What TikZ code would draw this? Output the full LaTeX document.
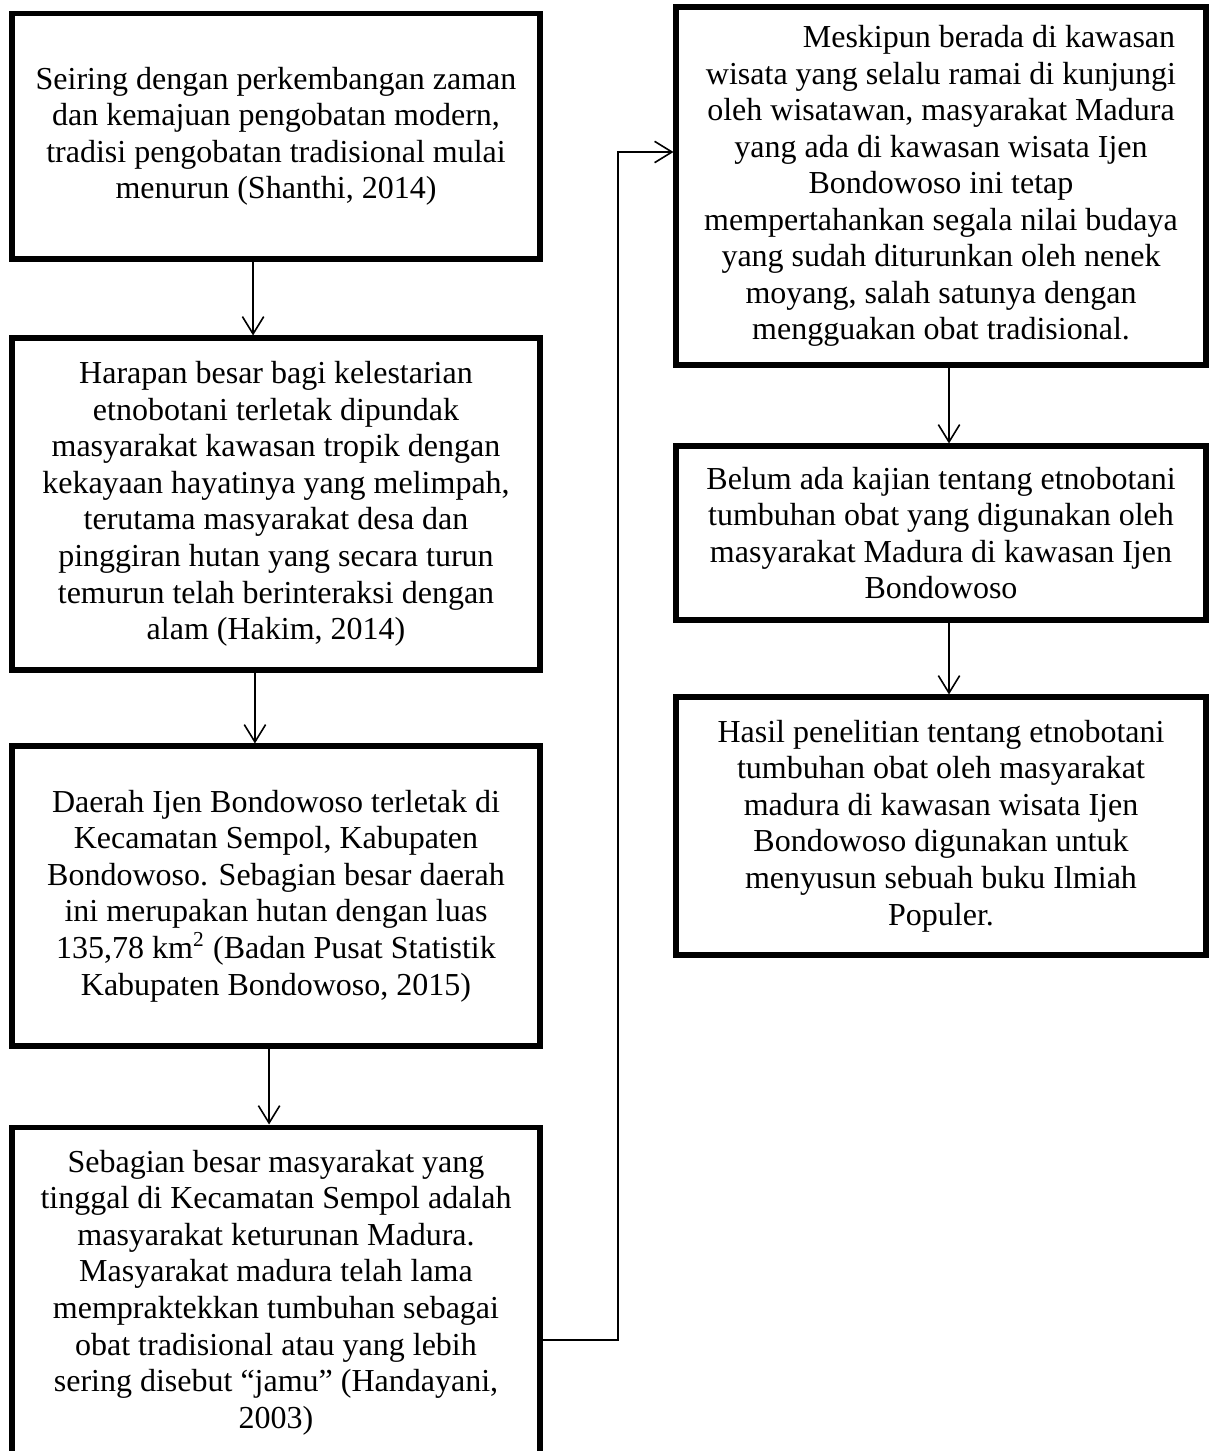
\documentclass[tikz,border=0pt]{standalone}
\usepackage{fontspec}
\setmainfont{Liberation Serif}
\usetikzlibrary{arrows.meta}

\begin{document}
\begin{tikzpicture}[x=0.375pt, y=-0.375pt,
    kotak/.style={draw, line width=1.9pt, rectangle, align=center, inner sep=0pt,
      font=\fontsize{12pt}{13.7pt}\selectfont},
    kiri/.style={kotak, minimum width=198pt},
    kanan/.style={kotak, minimum width=198.75pt},
    >={Straight Barb[length=6.5pt,width=8pt]}, line width=0.6pt]

        \useasboundingbox (0,0) rectangle (1211,1451);

        % kolom kiri
        \node (seiring) [kiri, minimum height=91.9pt] at (276,136.5)
            {Seiring dengan perkembangan zaman\\ dan kemajuan pengobatan modern,\\ tradisi pengobatan tradisional mulai\\ menurun (Shanthi, 2014)};
        \node (harapan) [kiri, minimum height=124.5pt] at (276,504)
            {Harapan besar bagi kelestarian\\ etnobotani terletak dipundak\\ masyarakat kawasan tropik dengan\\ kekayaan hayatinya yang melimpah,\\ terutama masyarakat desa dan\\ pinggiran hutan yang secara turun\\ temurun telah berinteraksi dengan\\ alam (Hakim, 2014)};
        \node (daerah) [kiri, minimum height=112.5pt] at (276,896)
            {Daerah Ijen Bondowoso terletak di\\ Kecamatan Sempol, Kabupaten\\ Bondowoso. Sebagian besar daerah\\ ini merupakan hutan dengan luas\\ 135,78 km\textsuperscript{2} (Badan Pusat Statistik\\ Kabupaten Bondowoso, 2015)};
        \node (sebagian) [kiri, minimum height=124.1pt] at (276,1292.5)
            {Sebagian besar masyarakat yang\\ tinggal di Kecamatan Sempol adalah\\ masyarakat keturunan Madura.\\ Masyarakat madura telah lama\\ mempraktekkan tumbuhan sebagai\\ obat tradisional atau yang lebih\\ sering disebut “jamu” (Handayani,\\ 2003)};

        % kolom kanan
        \node (meskipun) [kanan, minimum height=134.25pt] at (941,186)
            {\hspace*{36pt}Meskipun berada di kawasan\\ wisata yang selalu ramai di kunjungi\\ oleh wisatawan, masyarakat Madura\\ yang ada di kawasan wisata Ijen\\ Bondowoso ini tetap\\ mempertahankan segala nilai budaya\\ yang sudah diturunkan oleh nenek\\ moyang, salah satunya dengan\\ mengguakan obat tradisional.};
        \node (belum) [kanan, minimum height=65.25pt] at (941,533)
            {Belum ada kajian tentang etnobotani\\ tumbuhan obat yang digunakan oleh\\ masyarakat Madura di kawasan Ijen\\ Bondowoso};
        \node (hasil) [kanan, minimum height=96.75pt] at (941,826)
            {Hasil penelitian tentang etnobotani\\ tumbuhan obat oleh masyarakat\\ madura di kawasan wisata Ijen\\ Bondowoso digunakan untuk\\ menyusun sebuah buku Ilmiah\\ Populer.};

        \coordinate (belok1) at (618,1340);
        \coordinate (belok2) at (618,152);

        \draw[->] ([xshift=-8.6pt]seiring.south) to ([xshift=-8.6pt]harapan.north);
        \draw[->] ([xshift=-7.9pt]harapan.south) to ([xshift=-7.9pt]daerah.north);
        \draw[->] ([xshift=-2.6pt]daerah.south) to ([xshift=-2.6pt]sebagian.north);
        \draw[->] (sebagian.east |- belok1) -- (belok1) -- (belok2) -- (meskipun.west |- belok2);
        \draw[->] ([xshift=3pt]meskipun.south) to ([xshift=3pt]belum.north);
        \draw[->] ([xshift=3pt]belum.south) to ([xshift=3pt]hasil.north);

      \end{tikzpicture}
\end{document}
